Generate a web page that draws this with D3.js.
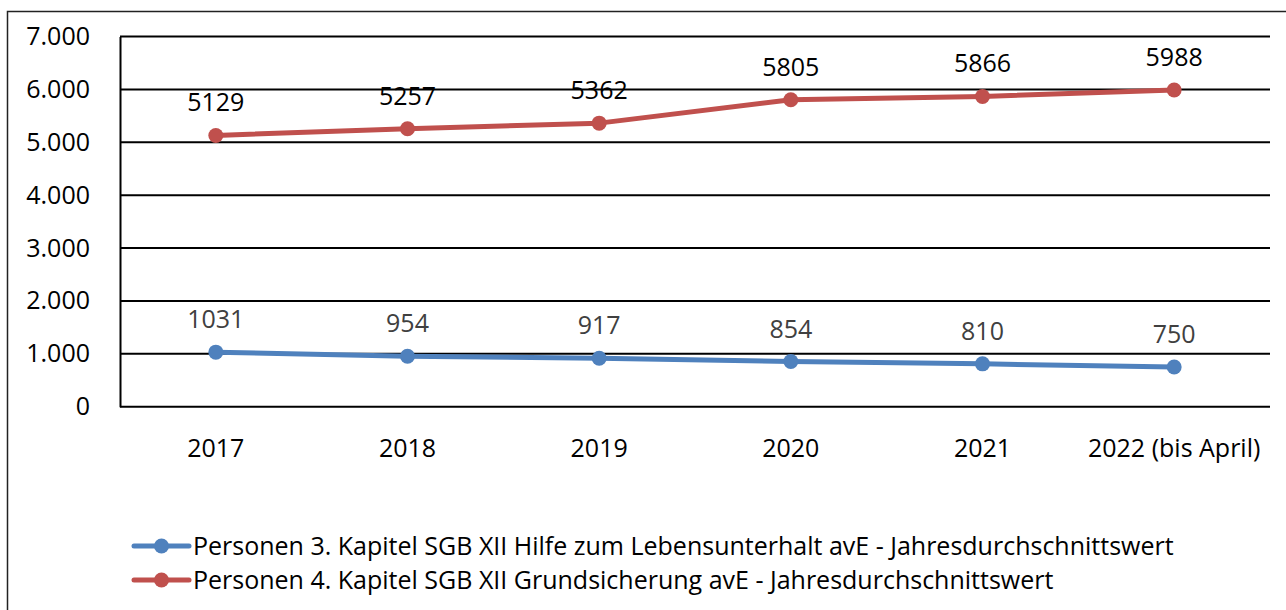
<!DOCTYPE html>
<html><head><meta charset="utf-8">
<script src="https://cdn.jsdelivr.net/npm/d3@7"></script>
<style>html,body{margin:0;padding:0;background:#fff;}svg{display:block;font-family:"Open Sans",sans-serif;}</style>
</head><body>
<svg id="c" width="1286" height="610"></svg>
<script>
const categories = ["2017","2018","2019","2020","2021","2022 (bis April)"];
const seriesNames = [
  "Personen 3. Kapitel SGB XII Hilfe zum Lebensunterhalt avE - Jahresdurchschnittswert",
  "Personen 4. Kapitel SGB XII Grundsicherung avE - Jahresdurchschnittswert"
];
const blueValues = [1031, 954, 917, 854, 810, 750];
const redValues = [5129, 5257, 5362, 5805, 5866, 5988];
const yTicks = [0,1000,2000,3000,4000,5000,6000,7000];
const colors = ["#4F81BD", "#C0504D"];
const labelColors = ["#404040", "#000000"];

const svg = d3.select("#c");
svg.append("rect").attr("x",7.5).attr("y",11.5).attr("width",1290).attr("height",620)
  .attr("fill","none").attr("stroke","#222").attr("stroke-width",1.5);

const pLeft = 120, pRight = 1270, pTop = 36.5, pBottom = 406.7;
const x = d3.scaleBand().domain(categories).range([pLeft,pRight]);
const y = d3.scaleLinear().domain([0,7000]).range([pBottom,pTop]);
const fmt = d => d===0 ? "0" : d3.format(",")(d).replace(/,/g,".");

svg.append("g").selectAll("line").data(yTicks).join("line")
  .attr("x1",pLeft).attr("x2",pRight).attr("y1",d=>y(d)).attr("y2",d=>y(d))
  .attr("stroke","#000").attr("stroke-width",2);

const ya = svg.append("g").attr("transform",`translate(${pLeft},0)`)
  .call(d3.axisLeft(y).tickValues(yTicks).tickFormat(fmt).tickSize(0).tickPadding(30));
ya.select(".domain").attr("stroke","#000").attr("stroke-width",2);
ya.selectAll("text").attr("font-size",25).attr("fill","#000").attr("font-family","Open Sans");

const xa = svg.append("g").attr("transform",`translate(0,${pBottom})`)
  .call(d3.axisBottom(x).tickSize(0).tickPadding(33));
xa.select(".domain").remove();
xa.selectAll("text").attr("font-size",25).attr("fill","#000").attr("font-family","Open Sans");

const series = [blueValues, redValues];
const line = d3.line().x((d,i)=>x(categories[i])+x.bandwidth()/2).y(d=>y(d));
series.forEach((vals,si)=>{
  svg.append("path").datum(vals).attr("d",line).attr("fill","none")
    .attr("stroke",colors[si]).attr("stroke-width",5).attr("stroke-linejoin","round");
  svg.append("g").selectAll("circle").data(vals).join("circle")
    .attr("cx",(d,i)=>x(categories[i])+x.bandwidth()/2).attr("cy",d=>y(d)).attr("r",7.5)
    .attr("fill",colors[si]);
  svg.append("g").selectAll("text").data(vals).join("text")
    .attr("x",(d,i)=>x(categories[i])+x.bandwidth()/2).attr("y",d=>y(d)-24)
    .attr("text-anchor","middle").attr("font-size",25).attr("fill",labelColors[si])
    .text(d=>d);
});

const lg = svg.append("g");
[546,580].forEach((ly,si)=>{
  lg.append("line").attr("x1",134).attr("x2",189).attr("y1",ly).attr("y2",ly)
    .attr("stroke",colors[si]).attr("stroke-width",5).attr("stroke-linecap","round");
  lg.append("circle").attr("cx",161.5).attr("cy",ly).attr("r",7.5).attr("fill",colors[si]);
  lg.append("text").attr("x",193).attr("y",ly).attr("dy","0.35em").attr("font-size",25)
    .attr("fill","#000").text(seriesNames[si]);
});
</script>
</body></html>
